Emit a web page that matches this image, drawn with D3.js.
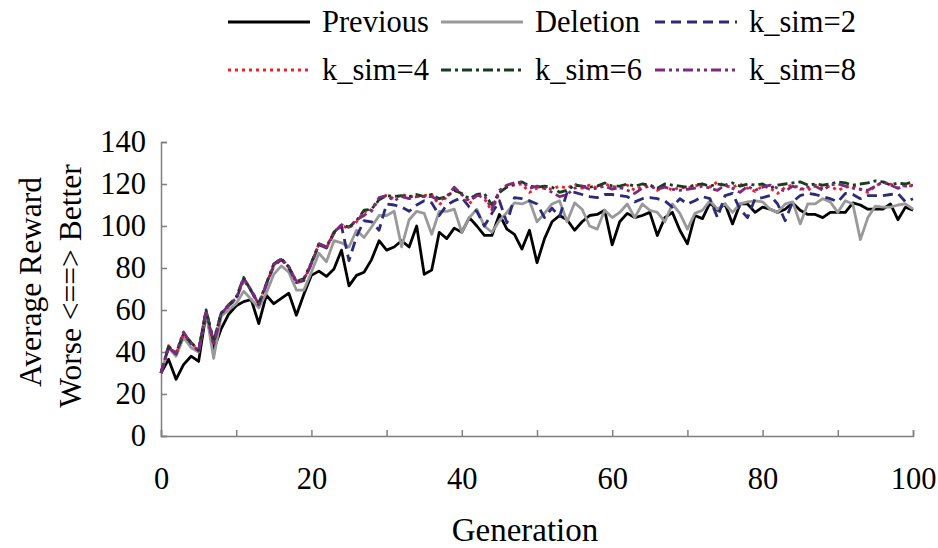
<!DOCTYPE html>
<html>
<head>
<meta charset="utf-8">
<script src="https://cdn.jsdelivr.net/npm/d3@7"></script>
<style>
  html, body { margin: 0; padding: 0; background: #fff; }
  svg { display: block; }
  text { font-family: "Liberation Serif", "Times New Roman", serif; }
</style>
</head>
<body>
<svg id="chart" width="938" height="548"></svg>
<script>
// ---------- DATA ----------
const generations = d3.range(0, 101);
const seriesNames = ["Previous", "Deletion", "k_sim=2", "k_sim=4", "k_sim=6", "k_sim=8"];
const xTickValues = [0, 10, 20, 30, 40, 50, 60, 70, 80, 90, 100];
const xTickLabels = ["0", "", "20", "", "40", "", "60", "", "80", "", "100"];
const yTickValues = [0, 20, 40, 60, 80, 100, 120, 140];

const previous = [30,36.5,27,34,38,35.5,58.5,41,51,58,62,64,65,53.5,67,63,65.5,68,57.5,67.5,
  76.5,78.5,76,79.5,88.5,71.5,76.5,78,84,93,88.5,90,93,90,100,77,79,97,94,99,
  97,104,100,95.5,95.5,105.5,98.5,96,89,98,82.5,94,102,105,103,98,102,105,105.5,107.5,
  91,102,106,104,105,106.5,95.5,104,106.5,98,91.5,105,103.5,111,107.5,110.5,101,110.5,110.5,106.5,
  109,108,106.5,108,111,107.5,105.5,105.5,104,106.5,106.5,106.5,111,110,108,108,108,110.5,103,109,107.5];
const deletion = [30,42,38,47,42,40,59,37,57,60,63,69,65,61,68,77,81,78,69.5,69.5,
  78,87,83,93,92,90,98,94.5,99.5,105,105,107,90,103,107,106,96,107,107,108,
  97,104,108,100,97,102.5,106.5,111,110.5,112,102,106,110.5,112,102,111,108,100,98.5,107.5,
  104,106.5,110.5,104,110.5,107.5,106.5,102,110.5,106,98.5,106,107.5,112,108,110.5,106.5,110.5,111.5,112,
  111.5,108,106.5,110.5,111.5,101,110.5,110.5,113,111.5,106.5,112,110.5,93.5,104,109.5,109,109,110,110.5,108];
const ksim2 = [30,42.5,39,49,44,40.5,59.5,45,58.5,62,65,75,69,62.5,72,81,84,80,73,74,
  82,91,89.5,96.5,100,83.5,95,102.5,102,98,110.5,110,109,107,110,112,111,105,110,112,
  113.5,109,107,100,106,112,101.5,113.5,113,112,110.5,104,108.5,104.5,116,116,115,114,113.5,115,
  115,114.5,114,111.5,113,113.5,113,112,109,113,110.5,112,114,113,104,114.5,115.5,108,104,113,
  113.5,114.5,110.5,102.5,111.5,114.5,115.5,115,114,113,111.5,115.5,115,113,114.5,114.5,114.5,115,115.5,111.5,113];
const ksim4 = [30,43,39,49,44.5,40.5,59,44,58,62,66,74,69.5,63,72.5,81.5,84,80.5,73,74.5,
  82.5,91.5,89.5,97,100,99,102,107,107,113,114.5,113,115,114,114,114.5,115,110,114,117,
  115,110.5,115,113,107,116,119,119.5,120,116,118,118,117.5,119,118,120,118,119.5,118,120,
  119,118,119.5,117,119,119.5,117,119,117,118.5,118,119,120,118.5,121,119,118.5,120,118,116.5,
  119,118,115.5,118.5,119.5,118,117,119.5,118,119,117,118.5,119,117.5,116,119,121,120,118,119.5,119];
const ksim6 = [30,42.5,39.5,48.5,44.5,41,60,45,58.5,62.5,66,75.5,69,63,72.5,82,84.5,80.5,73.5,75,
  82.5,91.5,90,97,100.5,99.5,102.5,107.5,108,112.5,114.5,114,114.5,114,115,114,115,113,114,117,
  115.5,113,115,115.5,110,116,118.5,120,121,119,118.5,119,118.5,116,117,119.5,119,118.5,119,120.5,
  119,119,120,119,120,119.5,118,120,119.5,119,118.5,119.5,120,119,120,119.5,120.5,119,120,119.5,
  120,118,119.5,120,120.5,121,119.5,120,119.5,120,121,120.5,119.5,120,120.5,121.5,121,119.5,120.5,120,121];
const ksim8 = [30,42,39.5,49.5,44,40.5,60,43,58,62.5,65.5,75,69.5,62.5,72,81.5,84.5,80.5,73.5,74.5,
  82,91.5,90,97,100.5,99.5,103,105,108,113.5,114.5,112,114,113,114,114,114,112,114,118.5,
  115,112,114.5,114.5,108,117,119.5,120.5,121,118,119,118,116,114,115,118,119,117.5,118,119,
  117.5,118.5,117,115.5,118,119,117.5,118.5,117.5,117,117.5,118,119,118,117,119.5,118,116,119,117,
  118.5,119.5,118,116.5,119,117.5,118.5,119,117,119.5,120,119,118,117.5,117,119,121,119.5,118,119,119.5];

const seriesValues = [previous, deletion, ksim2, ksim4, ksim6, ksim8];

// ---------- STYLES ----------
const styles = [
  { color: "#000000", dash: null },
  { color: "#999999", dash: null },
  { color: "#2b2b7a", dash: "10,6" },
  { color: "#f0202a", dash: "3,4" },
  { color: "#163d1e", dash: "10,4,3,4" },
  { color: "#7b2a80", dash: "10,4,3,4,3,4" }
];

const svg = d3.select("#chart");
const x = d3.scaleLinear().domain([0, 100]).range([161, 913]);
const y = d3.scaleLinear().domain([0, 140]).range([436, 142]);

// axes
const axisColor = "#7f7f7f";
const gx = svg.append("g").attr("transform", `translate(0,${y(0)})`)
  .call(d3.axisBottom(x).tickValues(xTickValues).tickSize(-6).tickPadding(31)
    .tickFormat((d, i) => xTickLabels[i]));
const gy = svg.append("g").attr("transform", `translate(${x(0)},0)`)
  .call(d3.axisLeft(y).tickValues(yTickValues).tickSize(-6).tickPadding(15)
    .tickFormat(d => String(d)));
[gx, gy].forEach(g => {
  g.select(".domain").attr("stroke", axisColor).attr("stroke-width", 1.5);
  g.selectAll(".tick line").attr("stroke", axisColor).attr("stroke-width", 1.5);
  g.selectAll(".tick text").attr("fill", "#000").style("font-size", "30.5px")
    .style("font-family", "'Liberation Serif', serif");
});

// lines
const line = d3.line().x((d, i) => x(generations[i])).y(d => y(d));
seriesValues.forEach((vals, k) => {
  svg.append("path").datum(vals)
    .attr("d", line)
    .attr("fill", "none")
    .attr("stroke", styles[k].color)
    .attr("stroke-width", 2.8)
    .attr("stroke-linejoin", "round")
    .attr("stroke-dasharray", styles[k].dash);
});

// axis titles
svg.append("text").attr("x", 525).attr("y", 541).attr("text-anchor", "middle")
  .style("font-size", "33px").text("Generation");
svg.append("text").attr("transform", "translate(41,282) rotate(-90)").attr("text-anchor", "middle")
  .style("font-size", "31.5px").text("Average Reward");
svg.append("text").attr("transform", "translate(81,286) rotate(-90)").attr("text-anchor", "middle")
  .style("font-size", "31.5px").text("Worse <==> Better");

// legend
const legendPos = [
  { lx: 228, ly: 22 }, { lx: 441, ly: 22 }, { lx: 655, ly: 22 },
  { lx: 228, ly: 70 }, { lx: 441, ly: 70 }, { lx: 655, ly: 70 }
];
seriesNames.forEach((name, k) => {
  const p = legendPos[k];
  svg.append("line").attr("x1", p.lx).attr("x2", p.lx + 82)
    .attr("y1", p.ly).attr("y2", p.ly)
    .attr("stroke", styles[k].color).attr("stroke-width", 2.8)
    .attr("stroke-dasharray", styles[k].dash);
  svg.append("text").attr("x", p.lx + 94).attr("y", p.ly + 10)
    .style("font-size", "30.5px").text(name);
});
</script>
</body>
</html>
